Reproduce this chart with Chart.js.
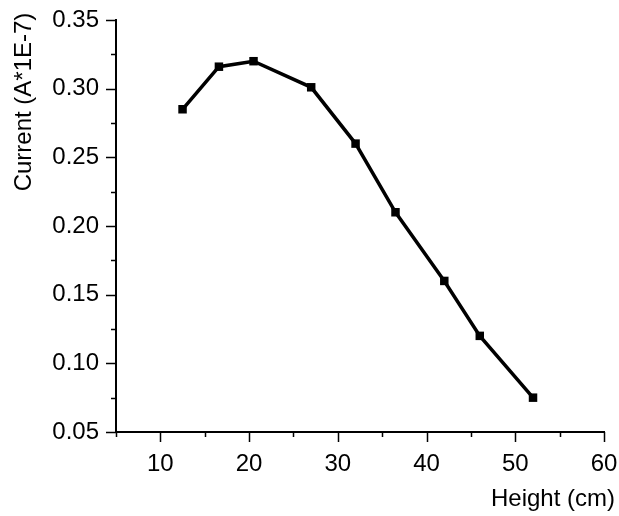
<!DOCTYPE html>
<html lang="en">
<head>
  <meta charset="UTF-8" />
  <title>Current vs Height</title>
  <script src="https://cdn.jsdelivr.net/npm/chart.js"></script>
  <style>
    html, body { margin: 0; padding: 0; background: #fff; }
    #wrap { width: 619px; height: 516px; }
  </style>
</head>
<body>
  <div id="wrap"><canvas id="chart" width="619" height="516"></canvas></div>

  <script>
    // values
    const heights = [12.5, 16.6, 20.5, 27, 32, 36.5, 42, 46, 52];
    const currents = [0.285, 0.316, 0.32, 0.301, 0.26, 0.21, 0.16, 0.12, 0.075];
    const xTicks = [10, 20, 30, 40, 50, 60];
    const yTicks = [0.05, 0.10, 0.15, 0.20, 0.25, 0.30, 0.35];
    const xTitle = 'Height (cm)';
    const yTitle = 'Current (A*1E-7)';

    const fontFamily = "'Liberation Sans', Arial, sans-serif";
    const font = { family: fontFamily, size: 24 };

    // Origin-style outward ticks (major + minor) and the two axis titles
    const axisDecor = {
      id: 'axisDecor',
      afterDraw(chart) {
        const { ctx, scales: { x, y } } = chart;
        ctx.save();
        ctx.strokeStyle = '#000';
        ctx.lineWidth = 1.5;
        ctx.beginPath();
        for (let v = 5; v <= 60; v += 5) {
          const px = Math.round(x.getPixelForValue(v)) + 0.5;
          const len = v % 10 === 0 ? 10 : 5;
          ctx.moveTo(px, y.bottom);
          ctx.lineTo(px, y.bottom + len);
        }
        for (let i = 0; i <= 12; i++) {
          const v = 0.05 + i * 0.025;
          const py = Math.round(y.getPixelForValue(v)) + 0.5;
          const len = i % 2 === 0 ? 10 : 5;
          ctx.moveTo(x.left, py);
          ctx.lineTo(x.left - len, py);
        }
        ctx.stroke();

        ctx.fillStyle = '#000';
        ctx.font = `24px ${fontFamily}`;
        ctx.textAlign = 'right';
        ctx.textBaseline = 'alphabetic';
        ctx.fillText(xTitle, x.right + 11, 506);

        ctx.translate(31, 102);
        ctx.rotate(-Math.PI / 2);
        ctx.textAlign = 'center';
        ctx.fillText(yTitle, 0, 0);
        ctx.restore();
      }
    };

    new Chart(document.getElementById('chart'), {
      type: 'scatter',
      data: {
        datasets: [{
          data: heights.map((h, i) => ({ x: h, y: currents[i] })),
          showLine: true,
          borderColor: '#000',
          borderWidth: 3.5,
          backgroundColor: '#000',
          pointStyle: 'rect',
          pointRadius: 6,
          pointBorderWidth: 0,
          pointHoverRadius: 6
        }]
      },
      options: {
        responsive: false,
        animation: false,
        layout: { padding: { top: 20, right: 15, left: 0, bottom: 0 } },
        plugins: { legend: { display: false }, tooltip: { enabled: false } },
        scales: {
          x: {
            type: 'linear',
            min: 5,
            max: 60,
            afterBuildTicks: s => { s.ticks = xTicks.map(v => ({ value: v })); },
            afterFit: s => { s.height = 84; s.paddingLeft = 0; s.paddingRight = 0; },
            grid: { display: false },
            border: { display: true, color: '#000', width: 2 },
            ticks: { color: '#000', font, padding: 10, maxRotation: 0 }
          },
          y: {
            min: 0.05,
            max: 0.35,
            afterBuildTicks: s => { s.ticks = yTicks.map(v => ({ value: v })); },
            afterFit: s => { s.width = 116; s.paddingTop = 0; s.paddingBottom = 0; },
            grid: { display: false },
            border: { display: true, color: '#000', width: 2 },
            ticks: { color: '#000', font, padding: 9, callback: v => v.toFixed(2) }
          }
        }
      },
      plugins: [axisDecor]
    });
  </script>
</body>
</html>
